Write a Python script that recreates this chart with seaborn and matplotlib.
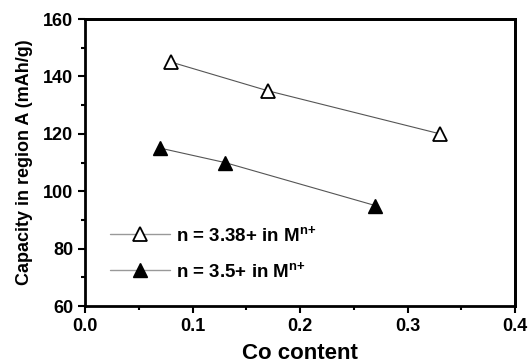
import matplotlib
matplotlib.use("Agg")
import matplotlib.pyplot as plt
import seaborn as sns
import pandas as pd
from matplotlib.ticker import MultipleLocator, FormatStrFormatter

co_open = [0.08, 0.17, 0.33]
cap_open = [145, 135, 120]
co_fill = [0.07, 0.13, 0.27]
cap_fill = [115, 110, 95]
labels = [r"n = 3.38+ in M$^{\mathregular{n{+}}}$", r"n = 3.5+ in M$^{\mathregular{n{+}}}$"]

sns.set_style("ticks")
plt.rcParams['font.family'] = ['Liberation Sans', 'DejaVu Sans']
plt.rcParams['font.weight'] = 'bold'
plt.rcParams['mathtext.fontset'] = 'custom'
plt.rcParams['mathtext.rm'] = 'Liberation Sans:bold'
plt.rcParams['mathtext.default'] = 'regular'
plt.rcParams['text.color'] = 'black'
plt.rcParams['xtick.color'] = 'black'
plt.rcParams['ytick.color'] = 'black'
plt.rcParams['axes.labelcolor'] = 'black'
plt.rcParams['axes.edgecolor'] = 'black'

df_open = pd.DataFrame({"x": co_open, "y": cap_open})
df_fill = pd.DataFrame({"x": co_fill, "y": cap_fill})

fig = plt.figure(figsize=(5.29, 3.64), dpi=100)
ax = fig.add_axes([0.1607, 0.1593, 0.8129, 0.7885])

sns.lineplot(data=df_open, x="x", y="y", ax=ax, color="#555555", lw=0.8,
             marker="^", ms=9.5, mfc="white", mec="black", mew=1.3, label=labels[0])
sns.lineplot(data=df_fill, x="x", y="y", ax=ax, color="#555555", lw=0.8,
             marker="^", ms=9.5, mfc="black", mec="black", mew=1.0, label=labels[1])

ax.set_xlim(0, 0.4)
ax.set_ylim(60, 160)
ax.xaxis.set_major_locator(MultipleLocator(0.1))
ax.xaxis.set_minor_locator(MultipleLocator(0.05))
ax.xaxis.set_major_formatter(FormatStrFormatter("%.1f"))
ax.yaxis.set_major_locator(MultipleLocator(20))
ax.yaxis.set_minor_locator(MultipleLocator(10))
ax.tick_params(which='major', direction='out', length=5, width=1.5, labelsize=13,
               top=False, right=False)
ax.tick_params(which='minor', direction='out', length=3, width=1.5,
               top=False, right=False)

ax.set_xlabel("Co content", fontsize=16, fontweight='bold', labelpad=6)
ax.set_ylabel("Capacity in region A (mAh/g)", fontsize=13, fontweight='bold', labelpad=7)

leg = ax.legend(loc='lower left', bbox_to_anchor=(0.02, 0.03), frameon=False,
                numpoints=1, fontsize=13.5, handlelength=3.2, handletextpad=0.3,
                labelspacing=0.85)
for line in leg.get_lines():
    line.set_color("#999999")
    line.set_linewidth(1.0)

for s in ['left', 'bottom', 'right', 'top']:
    ax.spines[s].set_visible(True)
    ax.spines[s].set_linewidth(2.0)
    ax.spines[s].set_edgecolor('#000000')
    ax.spines[s].set_zorder(10)

# top and right frame lines drawn again in axes coordinates
ax.axhline(1.0, color='black', lw=2.0, clip_on=False, zorder=10,
           transform=ax.transAxes) if False else None
ax.plot([0, 1], [1, 1], transform=ax.transAxes, color='black', lw=2.0,
        clip_on=False, zorder=10, solid_capstyle='projecting')
ax.plot([1, 1], [0, 1], transform=ax.transAxes, color='black', lw=2.0,
        clip_on=False, zorder=10, solid_capstyle='projecting')

fig.savefig("out.png", dpi=100)
